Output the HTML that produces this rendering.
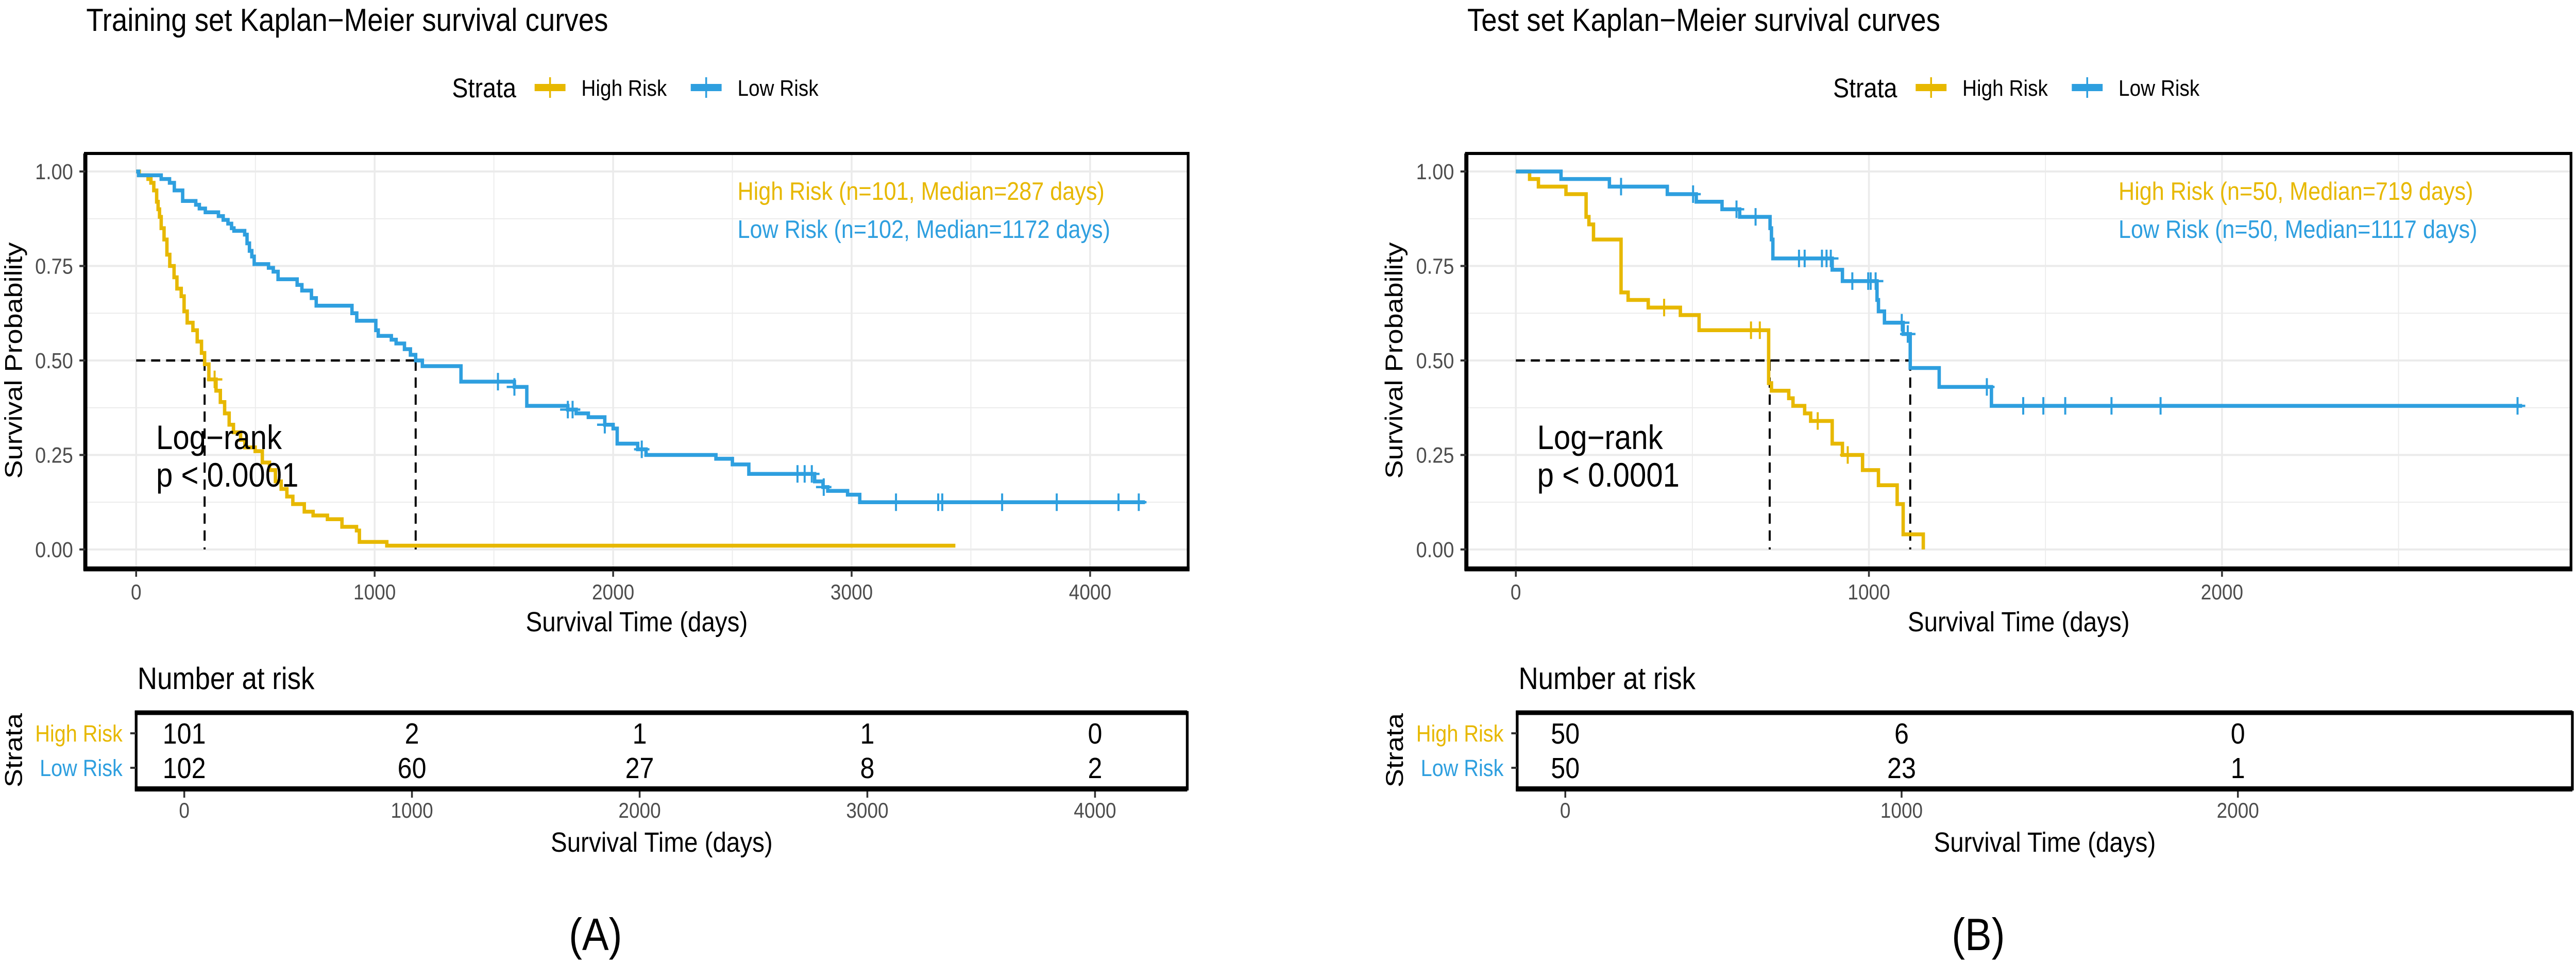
<!DOCTYPE html>
<html><head><meta charset="utf-8">
<meta name="viewport" content="width=5676, initial-scale=1">
<style>
html,body{margin:0;padding:0;background:#fff;width:100%;height:100%;overflow:hidden;}
svg{display:block;overflow:hidden;width:100vw;height:100vh;font-family:"Liberation Sans",Arial,sans-serif;}
</style></head>
<body>
<svg id="fig" viewBox="0 0 5676 1872" preserveAspectRatio="none" xmlns="http://www.w3.org/2000/svg">
<g id="root"></g>
</svg>
<script>
// ---------- data ----------
const trainHighT = [0,13,50,62,74,86,92,98,105,117,129,141,159,171,189,201,214,238,256,274,287,305,335,353,371,390,408,438,456,499,529,559,584,608,632,657,705,742,802,863,924,936,1051];
const trainHighS = [1,0.99,0.98,0.97,0.95,0.92,0.90,0.88,0.85,0.82,0.78,0.75,0.72,0.69,0.67,0.63,0.60,0.58,0.55,0.52,0.49,0.45,0.42,0.39,0.36,0.33,0.31,0.29,0.27,0.26,0.23,0.21,0.18,0.16,0.14,0.12,0.10,0.09,0.08,0.06,0.05,0.02,0.01];
const trainHighEnd = 3435;
const trainHighCensor = [329];
const trainLowT = [0,10,105,140,160,195,250,265,290,345,365,385,400,410,455,465,475,485,495,555,575,595,675,695,735,755,905,925,1005,1015,1070,1090,1125,1150,1172,1200,1362,1586,1638,1810,1845,1896,1965,2000,2017,2103,2138,2431,2500,2569,2845,2880,2900,2983,3034];
const trainLowS = [1,0.99,0.98,0.97,0.95,0.922,0.912,0.902,0.892,0.882,0.872,0.862,0.85,0.843,0.833,0.81,0.79,0.775,0.755,0.745,0.735,0.715,0.70,0.685,0.665,0.645,0.625,0.605,0.58,0.565,0.555,0.545,0.53,0.515,0.50,0.485,0.444,0.43,0.38,0.37,0.36,0.35,0.33,0.32,0.28,0.265,0.25,0.24,0.225,0.20,0.18,0.165,0.155,0.145,0.125];
const trainLowEnd = 4230;
const trainLowCensor = [1517,1586,1810,1830,1965,2120,2773,2803,2833,2883,3186,3363,3380,3631,3860,4119,4204];
const trainMedians = [287,1172];
const trainXTicks = [0,1000,2000,3000,4000];
const trainRiskHigh = [101,2,1,1,0];
const trainRiskLow = [102,60,27,8,2];

const testHighT = [0,39,64,142,199,207,220,298,318,375,466,519,716,724,773,785,818,835,896,925,982,1027,1080,1097,1154];
const testHighS = [1,0.98,0.96,0.94,0.88,0.86,0.82,0.68,0.66,0.64,0.62,0.58,0.44,0.42,0.40,0.38,0.36,0.34,0.28,0.25,0.21,0.17,0.12,0.04,0];
const testHighEnd = 1154;
const testHighCensor = [420,666,691,855,940];
const testLowT = [0,128,265,429,511,584,634,720,724,728,896,925,1023,1027,1044,1097,1117,1199,1347];
const testLowS = [1,0.98,0.96,0.94,0.92,0.90,0.88,0.85,0.82,0.77,0.74,0.71,0.66,0.63,0.60,0.57,0.48,0.43,0.38];
const testLowEnd = 2850;
const testLowCensor = [298,502,625,679,802,818,867,880,892,953,998,1005,1019,1093,1110,1334,1437,1494,1556,1687,1826,2837];
const testMedians = [719,1117];
const testXTicks = [0,1000,2000];
const testRiskTimes = [0,1000,2000];
const testRiskHigh = [50,6,0];
const testRiskLow = [50,23,1];

const yTicks = [0,0.25,0.5,0.75,1];
const yTickLabels = ["0.00","0.25","0.50","0.75","1.00"];

// ---------- helpers ----------
const NS = "http://www.w3.org/2000/svg";
const svg = document.getElementById('root');
const YEL = "#E7B800", BLU = "#2E9FDF";
function mk(tag, attrs, parent, text){
  const e = document.createElementNS(NS, tag);
  for (const k in attrs) e.setAttribute(k, attrs[k]);
  if (text !== undefined) e.textContent = text;
  (parent || svg).appendChild(e);
  return e;
}
function yP(p){ return 1067 - p*734; }
function stepAt(T,S,t){ let v=S[0]; for(let i=0;i<T.length;i++){ if(T[i]<=t) v=S[i]; } return v; }

function panel(cfg){
  const g = mk('g', {});
  
  
  const xS = t => cfg.x0 + t*cfg.k;
  const off = cfg.off;
  const ti = mk('text', {x:190+off, y:60, 'font-size':62, fill:'#000'}, g, cfg.title);
  
  
  const lg = mk('g', {}, g);
  
  
  mk('text', {x:996+off, y:189, 'font-size':53}, lg, 'Strata');
  const keys = [[1178, YEL, 1281, 'High Risk'], [1522, BLU, 1625, 'Low Risk']];
  keys.forEach(kk => {
    const ke = mk('g', {}, lg);
    
    
    mk('rect', {x:kk[0]+off, y:163, width:68, height:14, fill:kk[1]}, ke);
    mk('rect', {x:kk[0]+off+32, y:150, width:4, height:40, fill:kk[1]}, ke);
    mk('text', {x:kk[2]+off, y:186, 'font-size':44}, ke, kk[3]);
  });
  const L = cfg.left, R = cfg.right, T = 298, B = 1103;
  const pa = mk('g', {}, g);
  
  
  mk('rect', {x:L, y:T, width:R-L, height:B-T, fill:'#fff'}, pa);
  [0.125,0.375,0.625,0.875].forEach(p => mk('line', {x1:L, x2:R, y1:yP(p), y2:yP(p), stroke:'#ebebeb', 'stroke-width':2}, pa));
  cfg.minorX.forEach(t => mk('line', {x1:xS(t), x2:xS(t), y1:T, y2:B, stroke:'#ebebeb', 'stroke-width':2}, pa));
  yTicks.forEach(p => mk('line', {x1:L, x2:R, y1:yP(p), y2:yP(p), stroke:'#ebebeb', 'stroke-width':4}, pa));
  cfg.xTicks.forEach(t => mk('line', {x1:xS(t), x2:xS(t), y1:T, y2:B, stroke:'#ebebeb', 'stroke-width':4}, pa));
  const med = mk('g', {stroke:'#000', 'stroke-width':4.5, 'stroke-dasharray':'20 13', fill:'none'}, pa);
  
  
  mk('line', {x1:xS(0), x2:xS(Math.max(...cfg.medians)), y1:yP(0.5), y2:yP(0.5)}, med);
  cfg.medians.forEach(m => mk('line', {x1:xS(m), x2:xS(m), y1:yP(0.5), y2:yP(0)}, med));
  cfg.series.forEach(s => {
    const sg = mk('g', {}, pa);
    
    
    let d = 'M' + xS(s.T[0]) + ' ' + yP(s.S[0]);
    for (let i=1;i<s.T.length;i++) d += ' H' + xS(s.T[i]) + ' V' + yP(s.S[i]);
    d += ' H' + xS(s.end);
    mk('path', {d:d, fill:'none', stroke:s.color, 'stroke-width':7.5, 'stroke-linejoin':'miter'}, sg);
    s.censor.forEach(c => {
      const cx = xS(c), cy = yP(stepAt(s.T, s.S, c));
      const cm = mk('path', {d:`M${cx} ${cy-17} V${cy+17} M${cx-17} ${cy} H${cx+17}`, stroke:s.color, 'stroke-width':4.5, fill:'none'}, sg);
      
      
    });
  });
  const an = mk('g', {}, pa);
  
  
  mk('text', {x:cfg.annX, y:388, 'font-size':49, fill:YEL}, an, cfg.annHigh);
  mk('text', {x:cfg.annX, y:462, 'font-size':49, fill:BLU}, an, cfg.annLow);
  const lr = mk('g', {}, pa);
  
  
  mk('text', {x:cfg.lrX, y:872, 'font-size':66}, lr, 'Log\u2212rank');
  mk('text', {x:cfg.lrX, y:945, 'font-size':66}, lr, 'p < 0.0001');
  mk('rect', {x:L, y:T, width:R-L, height:B-T, fill:'none', stroke:'#000', 'stroke-width':6}, pa);
  mk('line', {x1:L, x2:L, y1:T, y2:B+5, stroke:'#000', 'stroke-width':9}, pa);
  mk('line', {x1:L-4, x2:R+3, y1:B+2, y2:B+2, stroke:'#000', 'stroke-width':9}, pa);
  const ya = mk('g', {}, g);
  
  
  yTicks.forEach((p,i) => {
    mk('line', {x1:L-13, x2:L, y1:yP(p), y2:yP(p), stroke:'#333', 'stroke-width':4}, ya);
    mk('text', {x:L-27, y:yP(p)+15, 'font-size':43, fill:'#4d4d4d', 'text-anchor':'end'}, ya, yTickLabels[i]);
  });
  const yt = mk('text', {x:0, y:0, 'font-size':54, 'text-anchor':'middle', transform:`translate(${cfg.yTitleX},700) rotate(-90)`}, ya, 'Survival Probability');
  
  
  const xa = mk('g', {}, g);
  
  
  cfg.xTicks.forEach(t => {
    mk('line', {x1:xS(t), x2:xS(t), y1:B+5, y2:B+17, stroke:'#333', 'stroke-width':4}, xa);
    mk('text', {x:xS(t), y:1164, 'font-size':42, fill:'#4d4d4d', 'text-anchor':'middle'}, xa, String(t));
  });
  const xt = mk('text', {x:(L+R)/2, y:1226, 'font-size':54, 'text-anchor':'middle'}, xa, 'Survival Time (days)');
  
  

  const rt = mk('g', {}, g);
  
  
  const rx = t => cfg.rx0 + t*cfg.rk;
  mk('text', {x:303+off, y:1338, 'font-size':60}, rt, 'Number at risk');
  const rL = 300+off, rR = cfg.rRight, rT = 1384, rB = 1532;
  mk('rect', {x:rL, y:rT, width:rR-rL, height:rB-rT, fill:'none', stroke:'#000', 'stroke-width':6}, rt);
  mk('line', {x1:rL-3, x2:rR, y1:rT, y2:rT, stroke:'#000', 'stroke-width':9}, rt);
  mk('line', {x1:rL-3, x2:rR, y1:rB, y2:rB, stroke:'#000', 'stroke-width':10}, rt);
  const rows = [[1424, YEL, 'High Risk', cfg.riskHigh], [1491, BLU, 'Low Risk', cfg.riskLow]];
  rows.forEach(r => {
    mk('line', {x1:rL-13, x2:rL, y1:r[0], y2:r[0], stroke:'#333', 'stroke-width':4}, rt);
    mk('text', {x:rL-30, y:r[0]+16, 'font-size':45, fill:r[1], 'text-anchor':'end'}, rt, r[2]);
    r[3].forEach((v,i) => {
      const n = mk('text', {x:rx(cfg.riskTimes[i]), y:r[0]+20, 'font-size':57, 'text-anchor':'middle'}, rt, String(v));
      
      
    });
  });
  mk('text', {x:0, y:0, 'font-size':54, 'text-anchor':'middle', transform:`translate(${48+off},1457) rotate(-90)`}, rt, 'Strata');
  cfg.riskTicks.forEach(t => {
    mk('line', {x1:rx(t), x2:rx(t), y1:rB+5, y2:rB+17, stroke:'#333', 'stroke-width':4}, rt);
    mk('text', {x:rx(t), y:1588, 'font-size':42, fill:'#4d4d4d', 'text-anchor':'middle'}, rt, String(t));
  });
  mk('text', {x:(rL+rR)/2, y:1654, 'font-size':54, 'text-anchor':'middle'}, rt, 'Survival Time (days)');
  const pl = mk('text', {x:cfg.labelX, y:1845, 'font-size':88, 'text-anchor':'middle'}, g, cfg.label);
  
  
}

panel({
  name:'training-panel', off:0, title:'Training set Kaplan\u2212Meier survival curves',
  x0:300, k:0.5255, left:188, right:2618, xTicks:trainXTicks, minorX:[500,1500,2500,3500],
  medians:trainMedians,
  series:[
    {name:'high-risk-curve', T:trainHighT, S:trainHighS, end:trainHighEnd, censor:trainHighCensor, color:YEL},
    {name:'low-risk-curve', T:trainLowT, S:trainLowS, end:trainLowEnd, censor:trainLowCensor, color:BLU}
  ],
  annX:1625, annHigh:'High Risk (n=101, Median=287 days)', annLow:'Low Risk (n=102, Median=1172 days)',
  lrX:344, yTitleX:48,
  rx0:406, rk:0.5017, rRight:2616, riskTimes:trainXTicks, riskTicks:trainXTicks,
  riskHigh:trainRiskHigh, riskLow:trainRiskLow, labelX:1312, label:'(A)'
});
panel({
  name:'test-panel', off:3043, title:'Test set Kaplan\u2212Meier survival curves',
  x0:3340, k:0.778, left:3231, right:5665, xTicks:testXTicks, minorX:[500,1500,2500],
  medians:testMedians,
  series:[
    {name:'high-risk-curve', T:testHighT, S:testHighS, end:testHighEnd, censor:testHighCensor, color:YEL},
    {name:'low-risk-curve', T:testLowT, S:testLowS, end:testLowEnd, censor:testLowCensor, color:BLU}
  ],
  annX:4668, annHigh:'High Risk (n=50, Median=719 days)', annLow:'Low Risk (n=50, Median=1117 days)',
  lrX:3387, yTitleX:3090,
  rx0:3449, rk:0.741, rRight:5668, riskTimes:testRiskTimes, riskTicks:testXTicks,
  riskHigh:testRiskHigh, riskLow:testRiskLow, labelX:4359, label:'(B)'
});
</script>
</body></html>
